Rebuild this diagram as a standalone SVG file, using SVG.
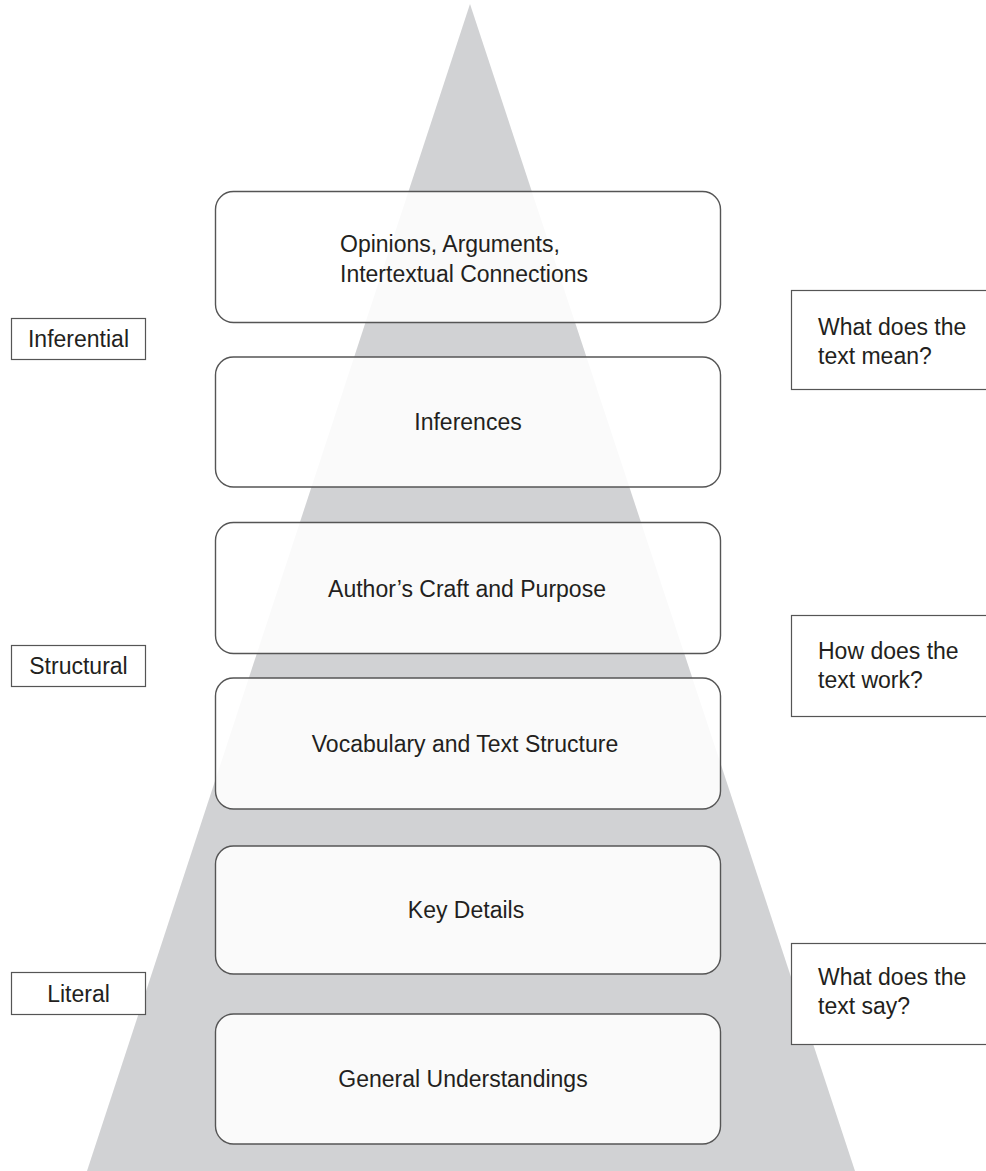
<svg xmlns="http://www.w3.org/2000/svg" width="986" height="1171" viewBox="0 0 986 1171">
<style>
text{font-family:"Liberation Sans",Arial,sans-serif;font-size:23px;fill:#231f20}
.lvl{fill:#ffffff;fill-opacity:0.88;stroke:#555;stroke-width:1.4}
.tag{fill:#ffffff;stroke:#555;stroke-width:1.2}
.q{fill:#ffffff;stroke:#555;stroke-width:1.2}
.c{text-anchor:middle}
</style>
<rect width="986" height="1171" fill="#ffffff"/>
<polygon id="pyramid" points="470,4 87,1171 855,1171" fill="#d1d2d4"/>
<g id="connectors"></g>
<g id="n-opinions"><rect class="lvl" x="215.5" y="191.5" width="505" height="131" rx="18"/><text x="340" y="252">Opinions, Arguments,</text><text x="340" y="282">Intertextual Connections</text></g>
<g id="n-inferences"><rect class="lvl" x="215.5" y="357" width="505" height="130" rx="18"/><text class="c" x="468" y="430">Inferences</text></g>
<g id="n-craft"><rect class="lvl" x="215.5" y="522.5" width="505" height="131" rx="18"/><text class="c" x="467" y="597">Author’s Craft and Purpose</text></g>
<g id="n-vocab"><rect class="lvl" x="215.5" y="678" width="505" height="131" rx="18"/><text class="c" x="465" y="752">Vocabulary and Text Structure</text></g>
<g id="n-key"><rect class="lvl" x="215.5" y="846" width="505" height="128" rx="18"/><text class="c" x="466" y="918">Key Details</text></g>
<g id="n-general"><rect class="lvl" x="215.5" y="1014" width="505" height="130" rx="18"/><text class="c" x="463" y="1087">General Understandings</text></g>
<g id="t-inferential"><rect class="tag" x="11.5" y="318.5" width="134" height="41"/><text class="c" x="78.5" y="347">Inferential</text></g>
<g id="t-structural"><rect class="tag" x="11.5" y="645.5" width="134" height="41"/><text class="c" x="78.5" y="674">Structural</text></g>
<g id="t-literal"><rect class="tag" x="11.5" y="972.5" width="134" height="42"/><text class="c" x="78.5" y="1002">Literal</text></g>
<g id="q-mean"><rect class="q" x="791.5" y="290.5" width="220" height="99"/><text x="818" y="335">What does the</text><text x="818" y="364">text mean?</text></g>
<g id="q-work"><rect class="q" x="791.5" y="615.5" width="220" height="101"/><text x="818" y="659">How does the</text><text x="818" y="688">text work?</text></g>
<g id="q-say"><rect class="q" x="791.5" y="943.5" width="220" height="101"/><text x="818" y="985">What does the</text><text x="818" y="1014">text say?</text></g>
</svg>
